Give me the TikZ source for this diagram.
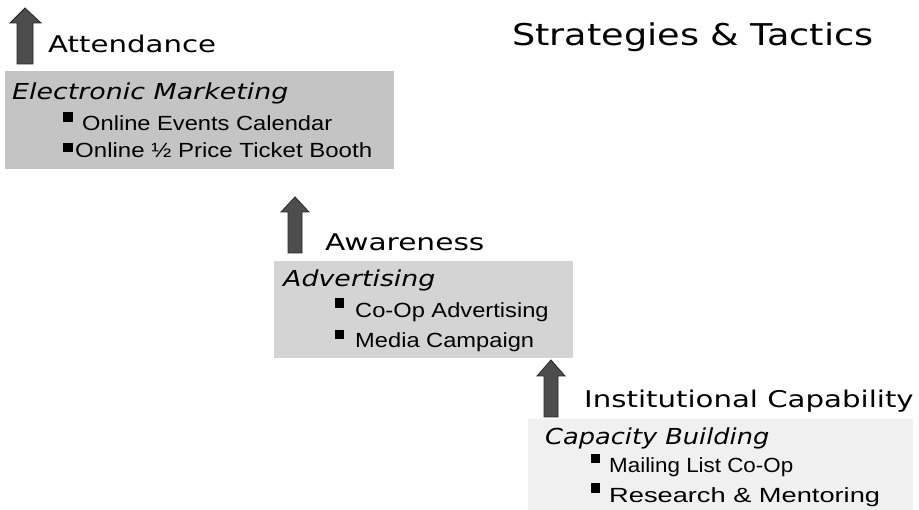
\documentclass[tikz,border=0pt]{standalone}
\usepackage{fontspec}
\newfontfamily\vfont[FakeStretch=1.27]{DejaVu Sans}
\newfontfamily\tfont[FakeStretch=1.22]{DejaVu Sans}
\newfontfamily\vifont[FakeStretch=1.22]{DejaVu Sans Oblique}
\newfontfamily\afont[FakeStretch=1.155]{Liberation Sans}
\definecolor{boxA}{RGB}{196,196,196}
\definecolor{boxB}{RGB}{212,212,212}
\definecolor{boxC}{RGB}{240,240,240}
\definecolor{arrfill}{RGB}{77,77,77}
\tikzset{
  lbl/.style={anchor=base west, inner sep=0pt, font=\vfont\fontsize{23}{27}\selectfont},
  ttl/.style={anchor=base west, inner sep=0pt, font=\tfont\fontsize{30}{34}\selectfont},
  cat/.style={anchor=base west, inner sep=0pt, font=\vifont\fontsize{22}{26}\selectfont},
  itm/.style={anchor=base west, inner sep=0pt, font=\afont\fontsize{20.5}{24}\selectfont},
  bul/.style={fill=black, inner sep=0pt, minimum size=9.5pt},
  upar/.style={fill=arrfill, draw=black!85, line width=0.8pt, line join=miter}
}
\begin{document}
\begin{tikzpicture}[x=1pt,y=-1pt]
\useasboundingbox (0,0) rectangle (919,510);
\fill[white] (0,0) rectangle (919,510);
% boxes
\fill[boxA] (5,71) rectangle (394,169);
\fill[boxB] (274,261) rectangle (573,358);
\fill[boxC] (528,419) rectangle (913,510);
% arrows
\draw[upar] (25,8) -- (41,23) -- (33,23) -- (33,64) -- (17,64) -- (17,23) -- (10,23) -- cycle;
\draw[upar] (295,197) -- (309,212) -- (302,212) -- (302,253) -- (288,253) -- (288,212) -- (281,212) -- cycle;
\draw[upar] (551,360) -- (565,376) -- (558,376) -- (558,417) -- (544,417) -- (544,376) -- (537,376) -- cycle;
% title
\node[ttl] (title) at (512,46) {Strategies \& Tactics};
% group 1
\node[lbl] (att) at (48,53) {Attendance};
\node[cat] (em) at (12,100) {Electronic Marketing};
\node[bul] (b1a) at (68,117) {};
\node[itm] (e1) at (82,131) {Online Events Calendar};
\node[bul] (b1b) at (68,147.5) {};
\node[itm] (e2) at (75,158) {\scalebox{1.015}[1]{Online ½ Price Ticket Booth}};
% group 2
\node[lbl] (aw) at (325,251) {\scalebox{1.015}[1]{Awareness}};
\node[cat] (adv) at (283,287) {Advertising};
\node[bul] (b2a) at (339.5,303) {};
\node[itm] (a1) at (355,318) {Co-Op Advertising};
\node[bul] (b2b) at (339.5,334.5) {};
\node[itm] (a2) at (355,348) {Media Campaign};
% group 3
\node[lbl] (ic) at (584,408) {Institutional Capability};
\node[cat] (cb) at (545,445) {\scalebox{0.955}[1]{Capacity Building}};
\node[bul] (b3a) at (595.5,458.5) {};
\node[itm] (c1) at (609,473) {\scalebox{0.945}[1]{Mailing List Co-Op}};
\node[bul] (b3b) at (595.5,488) {};
\node[itm] (c2) at (609,503) {\scalebox{1.15}[1]{Research \& Mentoring}};
\end{tikzpicture}
\end{document}
